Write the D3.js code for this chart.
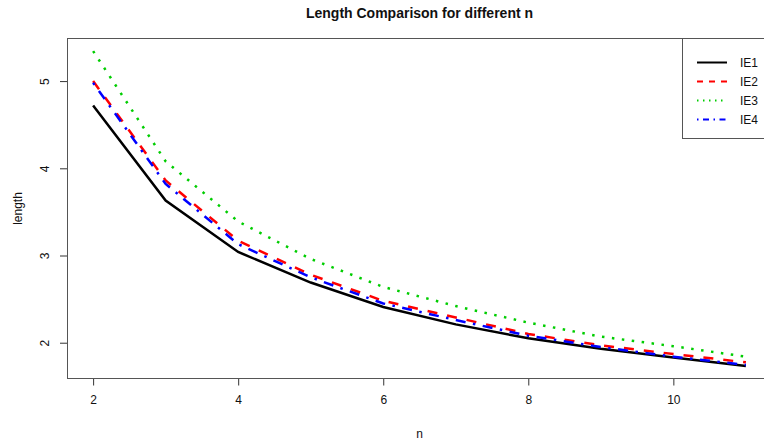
<!DOCTYPE html>
<html lang="en">
<head>
  <meta charset="UTF-8">
  <title>Length Comparison for different n</title>
  <script src="https://d3js.org/d3.v7.min.js"></script>
  <style>
    body {
      margin: 0;
      background: #fff;
      font-family: "Liberation Sans", Arial, sans-serif;
    }
    svg text {
      fill: #111;
    }
  </style>
</head>
<body>
  <svg id="chart" width="764" height="444"></svg>

  <script>
    const nValues = [2, 3, 4, 5, 6, 7, 8, 9, 10, 11];
    const ie1 = [4.72, 3.63, 3.04, 2.69, 2.41, 2.21, 2.05, 1.93, 1.83, 1.734];
    const ie2 = [5.00, 3.86, 3.17, 2.78, 2.48, 2.29, 2.10, 1.97, 1.87, 1.775];
    const ie3 = [5.344, 4.08, 3.39, 2.96, 2.64, 2.42, 2.23, 2.07, 1.96, 1.84];
    const ie4 = [4.98, 3.82, 3.13, 2.75, 2.45, 2.26, 2.08, 1.95, 1.84, 1.745];
    const seriesNames = ["IE1", "IE2", "IE3", "IE4"];
    const xTicks = [2, 4, 6, 8, 10];
    const yTicks = [2, 3, 4, 5];

    const colors = ["#000000", "#ff0000", "#00cd00", "#0000ff"];
    const dashes = [null, "10,10", "2.5,7.5", "2.5,7.5,10,7.5"];
    const legendDashes = [null, "6,6", "1.5,4.5", "1.5,4.5,6,4.5"];

    const svg = d3.select("#chart");

    // plot region, R style: data range padded by 4% on each side
    const plotLeft = 67, plotRight = 772, plotTop = 38.5, plotBottom = 378.5;
    const xPad = (d3.max(nValues) - d3.min(nValues)) * 0.04;
    const allY = ie1.concat(ie2, ie3, ie4);
    const yPad = (d3.max(allY) - d3.min(allY)) * 0.04;

    const x = d3.scaleLinear()
      .domain([d3.min(nValues) - xPad, d3.max(nValues) + xPad])
      .range([plotLeft, plotRight]);
    const y = d3.scaleLinear()
      .domain([d3.min(allY) - yPad, d3.max(allY) + yPad])
      .range([plotBottom, plotTop]);

    // title
    svg.append("text")
      .attr("x", (plotLeft + plotRight) / 2)
      .attr("y", 18)
      .attr("text-anchor", "middle")
      .style("font-size", "14px")
      .style("font-weight", "bold")
      .text("Length Comparison for different n");

    // axes
    const xAxis = svg.append("g")
      .attr("transform", `translate(0,${plotBottom})`)
      .call(d3.axisBottom(x).tickValues(xTicks).tickFormat(d3.format("d"))
        .tickSize(7).tickPadding(10).tickSizeOuter(0));
    const yAxis = svg.append("g")
      .attr("transform", `translate(${plotLeft},0)`)
      .call(d3.axisLeft(y).tickValues(yTicks).tickFormat(d3.format("d"))
        .tickSize(7).tickSizeOuter(0));

    [xAxis, yAxis].forEach(g => {
      g.select(".domain").remove();
      g.selectAll("line").attr("stroke", "#333");
      g.selectAll("text")
        .style("font-size", "12px")
        .style("font-family", "'Liberation Sans', Arial, sans-serif")
        .attr("fill", "#222");
    });

    // rotated y tick labels like R's default las = 0
    yAxis.selectAll(".tick text")
      .attr("x", null).attr("dy", null)
      .attr("text-anchor", "middle")
      .attr("transform", "translate(-18,0) rotate(-90)");

    // axis titles
    svg.append("text")
      .attr("x", (plotLeft + plotRight) / 2)
      .attr("y", 438)
      .attr("text-anchor", "middle")
      .style("font-size", "12px")
      .text("n");
    svg.append("text")
      .attr("transform", `translate(22,${(plotTop + plotBottom) / 2}) rotate(-90)`)
      .attr("text-anchor", "middle")
      .style("font-size", "12px")
      .text("length");

    // lines
    const line = d3.line()
      .x((d, i) => x(nValues[i]))
      .y(d => y(d));

    [ie1, ie2, ie3, ie4].forEach((vals, k) => {
      svg.append("path")
        .datum(vals)
        .attr("fill", "none")
        .attr("stroke", colors[k])
        .attr("stroke-width", 2.5)
        .attr("stroke-dasharray", dashes[k])
        .attr("d", line);
    });

    // plot box
    svg.append("rect")
      .attr("x", plotLeft + 0.5)
      .attr("y", plotTop)
      .attr("width", plotRight - plotLeft)
      .attr("height", plotBottom - plotTop)
      .attr("fill", "none")
      .attr("stroke", "#555")
      .attr("stroke-width", 1);

    // legend (top right, clipped by the window like the original)
    const legend = svg.append("g");
    legend.append("rect")
      .attr("x", 682.5)
      .attr("y", plotTop)
      .attr("width", plotRight - 682.5)
      .attr("height", 100)
      .attr("fill", "#fff")
      .attr("stroke", "#555");

    seriesNames.forEach((name, k) => {
      const ly = 62.5 + k * 19;
      legend.append("line")
        .attr("x1", 697).attr("x2", 727)
        .attr("y1", ly).attr("y2", ly)
        .attr("stroke", colors[k])
        .attr("stroke-width", 2)
        .attr("stroke-dasharray", legendDashes[k]);
      legend.append("text")
        .attr("x", 740)
        .attr("y", ly + 4.5)
        .style("font-size", "12px")
        .text(name);
    });
  </script>
</body>
</html>
